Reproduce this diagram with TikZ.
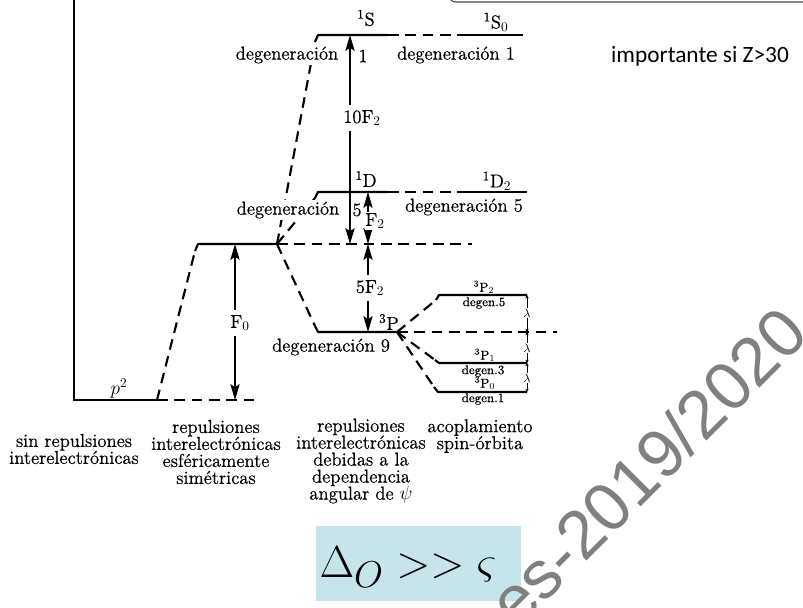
\documentclass[tikz,border=0pt]{standalone}
\usepackage{fontspec}
\setmainfont{Latin Modern Roman}[FakeBold=0.6]
\newfontfamily\calibri{Carlito}
\newfontfamily\wmfont{Liberation Sans}
\usetikzlibrary{arrows.meta}
\definecolor{boxblue}{RGB}{197,229,234}
\begin{document}
\begin{tikzpicture}[x=0.75pt,y=-0.75pt,
  level/.style={line width=1.6pt,line join=round},
  dashlevel/.style={line width=1.6pt,dash pattern=on 8pt off 5pt},
  gaparrow/.style={line width=0.9pt,
    {Stealth[length=12pt,width=7pt,inset=2.5pt]}-{Stealth[length=12pt,width=7pt,inset=2.5pt]}},
  lamarrow/.style={line width=0.4pt,
    {Stealth[length=2.5pt,width=2.5pt]}-{Stealth[length=2.5pt,width=2.5pt]}},
  lbl/.style={font=\fontsize{14}{12.75}\selectfont,inner sep=1pt},
  cut/.style={lbl,fill=white,inner xsep=0.5pt,inner ysep=4pt},
  tinylbl/.style={font=\fontsize{9.5}{10}\selectfont,inner sep=0.3pt},
  caption/.style={lbl,align=center},
]
\useasboundingbox (0,0) rectangle (803,607);
\clip (0,0) rectangle (803,607);

% frame edge at the top right
\draw[line width=0.8pt,black!70,rounded corners=5pt] (449,-20) -- (449,2) -- (830,2);

% energy axis and p^2 level
\coordinate (axtop) at (74,0);
\coordinate (axcorner) at (74,400);
\coordinate (p2r) at (157,400);
\coordinate (p2d) at (257,400);
\draw[level,line join=miter] (axtop) -- (axcorner) -- (p2r);
\draw[dashlevel] (p2r) -- (p2d);

% spherically symmetric level
\coordinate (f0h) at (195,251);
\coordinate (f0l) at (198,244);
\coordinate (f0r) at (277,244);
\coordinate (f0d) at (472,244);
\draw[dashlevel] (p2r) -- (f0h);
\draw[level] (f0h) -- (f0l) -- (f0r);
\draw[dashlevel] (f0r) -- (f0d);

% term 1S
\coordinate (sh) at (315,42);
\coordinate (sl) at (318,35);
\coordinate (sr) at (388,35);
\coordinate (s0l) at (460,35);
\coordinate (s0r) at (523,35);
\draw[dashlevel] (f0r) -- (sh);
\draw[level] (sh) -- (sl) -- (sr);
\draw[dashlevel] (sr) -- (s0l);
\draw[level] (s0l) -- (s0r);

% term 1D
\coordinate (dh) at (315,198);
\coordinate (dl) at (318,192);
\coordinate (dr) at (388,192);
\coordinate (d2l) at (460,192);
\coordinate (d2r) at (527,192);
\draw[dashlevel] (f0r) -- (dh);
\draw[level] (dh) -- (dl) -- (dr);
\draw[dashlevel] (dr) -- (d2l);
\draw[level] (d2l) -- (d2r);

% term 3P
\coordinate (ph) at (315,326);
\coordinate (pl) at (318,332);
\coordinate (pr) at (397,332);
\coordinate (pd) at (557,332);
\draw[dashlevel] (f0r) -- (ph);
\draw[level] (ph) -- (pl) -- (pr);
\draw[dashlevel] (pr) -- (pd);

% spin-orbit levels
\coordinate (q2h) at (436,300);
\coordinate (q2l) at (439,295);
\coordinate (q2r) at (527,295);
\coordinate (q1h) at (435,360);
\coordinate (q1l) at (439,363);
\coordinate (q1r) at (527,363);
\coordinate (q0h) at (434,387);
\coordinate (q0l) at (438,392);
\coordinate (q0r) at (527,392);
\coordinate (qm) at (527,332);
\draw[dashlevel] (pr) -- (q2h);
\draw[level] (q2h) -- (q2l) -- (q2r);
\draw[dashlevel] (pr) -- (q1h);
\draw[level] (q1h) -- (q1l) -- (q1r);
\draw[dashlevel] (pr) -- (q0h);
\draw[level] (q0h) -- (q0l) -- (q0r);

% energy gaps
\coordinate (fa) at (235,244);
\coordinate (fb) at (235,400);
\coordinate (ta) at (350,35);
\coordinate (tb) at (350,244);
\coordinate (ua) at (368,192);
\coordinate (ub) at (368,244);
\coordinate (va) at (368,332);
\draw[gaparrow] (fa) -- (fb);
\draw[gaparrow] (ta) -- (tb);
\draw[gaparrow] (ua) -- (ub);
\draw[gaparrow] (ub) -- (va);
\draw[lamarrow] (q2r) -- (qm);
\draw[lamarrow] (qm) -- (q1r);
\draw[lamarrow] (q1r) -- (q0r);

\node[cut] (lf0) at (240,323) {F$_0$};
\node[cut] (l10) at (362,118) {10F$_2$};
\node[cut,inner ysep=1pt] (lf2) at (375,221) {F$_2$};
\node[cut] (l5f) at (370,288) {5F$_2$};
\node[tinylbl,fill=white] (la1) at (527,313) {$\lambda$};
\node[tinylbl,fill=white] (la2) at (527,348) {$\lambda$};
\node[tinylbl,fill=white] (la3) at (527,378) {$\lambda$};

% term labels
\node[lbl] (tS) at (366,18) {\textsuperscript{1}S};
\node[lbl] (tS0) at (496,22) {\textsuperscript{1}S$_0$};
\node[lbl,fill=white] (dgS) at (287,55) {degeneración};
\node[lbl] (dgS1) at (363,56) {1};
\node[lbl] (dgS0) at (456,55) {degeneración 1};
\node[lbl] (tD) at (366,179) {\textsuperscript{1}D};
\node[lbl] (tD2) at (497,181) {\textsuperscript{1}D$_2$};
\node[lbl,fill=white] (dgD) at (288,210) {degeneración};
\node[lbl] (dgD5) at (357,210) {5};
\node[lbl] (dgD2) at (464,207) {degeneración 5};
\node[lbl] (tP) at (389,322) {\textsuperscript{3}P};
\node[lbl] (dgP) at (331,347) {degeneración 9};
\node[lbl] (tp2) at (119,389) {$p^2$};

\node[tinylbl] (tP2) at (484,287) {\textsuperscript{3}P$_2$};
\node[tinylbl] (dP2) at (484,303) {degen.5};
\node[tinylbl] (tP1) at (485,355) {\textsuperscript{3}P$_1$};
\node[tinylbl] (dP1) at (483,371) {degen.3};
\node[tinylbl] (tP0) at (485,383) {\textsuperscript{3}P$_0$};
\node[tinylbl] (dP0) at (483,399) {degen.1};

% column captions
\node[caption] (c1) at (74,449) {sin repulsiones\\interelectrónicas};
\node[caption] (c2) at (216,452) {repulsiones\\interelectrónicas\\esféricamente\\simétricas};
\node[caption] (c3) at (361,461) {repulsiones\\interelectrónicas\\debidas a la\\dependencia\\angular de $\psi$};
\node[caption] (c4) at (480,436) {acoplamiento\\spin-órbita};

% side note
\node[font=\calibri\fontsize{17.5}{18}\selectfont] (note) at (700,56) {importante si Z>30};

% comparison box
\fill[boxblue] (316,526) rectangle (521,601);
\node[font=\fontsize{24.88}{25}\selectfont,anchor=base,inner sep=0] (cmp) at (408,577) {\scalebox{1.35}{$\Delta_O >> \varsigma$}};

% watermark
\node[font=\wmfont\fontsize{51}{51}\selectfont,text=black!50,rotate=45,anchor=base east,inner sep=0] (wm) at (811.5,336.5) {es-2019/2020};
\end{tikzpicture}
\end{document}
